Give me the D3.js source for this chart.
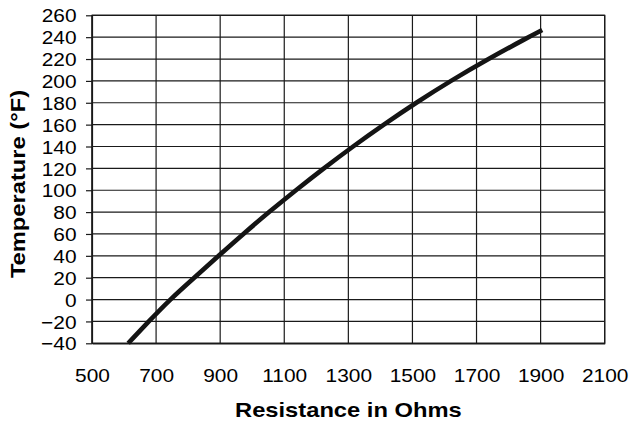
<!DOCTYPE html>
<html>
<head>
<meta charset="utf-8">
<script src="https://cdn.jsdelivr.net/npm/d3@7"></script>
<style>
  body { margin: 0; background: #fff; }
  text { font-family: "Liberation Sans", Arial, sans-serif; fill: #000; }
</style>
</head>
<body>
<svg id="chart"></svg>
<script>
// Chart size and plot margins
const width = 630;
const height = 425;
const margin = { top: 15.3, right: 25.3, bottom: 81.7, left: 92 };

// Data: temperature (°F) vs resistance (ohms)
const resistance = [613, 677, 743, 819, 895, 972, 1052, 1136, 1223, 1314, 1410, 1511, 1619, 1736, 1862, 1905];
const temperature = [-40, -20, 0, 20, 40, 60, 80, 100, 120, 140, 160, 180, 200, 220, 240, 246.5];

// Axis ticks
const xTicks = [500, 700, 900, 1100, 1300, 1500, 1700, 1900, 2100];
const yTicks = [-40, -20, 0, 20, 40, 60, 80, 100, 120, 140, 160, 180, 200, 220, 240, 260];

// Text in the reference is a bit wide, so stretch it horizontally
const stretch = 1.13;

const points = resistance.map((r, i) => ({ r: r, t: temperature[i] }));

const svg = d3.select("#chart")
  .attr("width", width)
  .attr("height", height);

const innerW = width - margin.left - margin.right;
const innerH = height - margin.top - margin.bottom;

const x = d3.scaleLinear().domain([500, 2100]).range([0, innerW]);
const y = d3.scaleLinear().domain([-40, 260]).range([innerH, 0]);

const g = svg.append("g")
  .attr("transform", "translate(" + margin.left + "," + margin.top + ")");

// Grid lines
g.append("g").selectAll("line")
  .data(yTicks)
  .enter()
  .append("line")
  .attr("x1", 0)
  .attr("x2", innerW)
  .attr("y1", (d) => y(d))
  .attr("y2", (d) => y(d))
  .attr("stroke", "#1a1a1a")
  .attr("stroke-width", 1.2);

g.append("g").selectAll("line")
  .data(xTicks)
  .enter()
  .append("line")
  .attr("x1", (d) => x(d))
  .attr("x2", (d) => x(d))
  .attr("y1", 0)
  .attr("y2", innerH)
  .attr("stroke", "#1a1a1a")
  .attr("stroke-width", 1.2);

// Y axis (with small outside ticks)
const yAxis = g.append("g")
  .call(d3.axisLeft(y).tickValues(yTicks).tickSize(6).tickSizeOuter(0).tickFormat(d3.format("d")));
yAxis.select(".domain").attr("stroke", "#1a1a1a").attr("stroke-width", 1.2);
yAxis.selectAll(".tick line").attr("stroke", "#1a1a1a").attr("stroke-width", 1.2);
yAxis.selectAll(".tick text")
  .attr("x", -15.5 / stretch)
  .attr("dy", "0.36em")
  .attr("transform", "scale(" + stretch + ",1)")
  .style("font-size", "18.5px")
  .style("font-family", "'Liberation Sans', Arial, sans-serif")
  .attr("fill", "#000");

// X axis (labels only, no tick marks)
const xAxis = g.append("g")
  .attr("transform", "translate(0," + innerH + ")")
  .call(d3.axisBottom(x).tickValues(xTicks).tickSize(0).tickSizeOuter(0).tickFormat(d3.format("d")));
xAxis.select(".domain").attr("stroke", "#1a1a1a").attr("stroke-width", 1.2);
xAxis.selectAll(".tick text")
  .attr("x", 0)
  .attr("y", 38.3)
  .attr("dy", 0)
  .attr("transform", "scale(" + stretch + ",1)")
  .style("font-size", "18.5px")
  .style("font-family", "'Liberation Sans', Arial, sans-serif")
  .attr("fill", "#000");

// Plot frame
g.append("rect")
  .attr("x", 0)
  .attr("y", 0)
  .attr("width", innerW)
  .attr("height", innerH)
  .attr("fill", "none")
  .attr("stroke", "#1a1a1a")
  .attr("stroke-width", 1.2);

// The curve
const line = d3.line()
  .x((d) => x(d.r))
  .y((d) => y(d.t))
  .curve(d3.curveBasis);

g.append("path")
  .datum(points)
  .attr("d", line)
  .attr("fill", "none")
  .attr("stroke", "#141414")
  .attr("stroke-width", 4.6)
  .attr("stroke-linecap", "butt");

// Axis titles
svg.append("text")
  .attr("transform", "translate(" + (margin.left + innerW / 2) + ",417.3) scale(" + stretch + ",1)")
  .attr("text-anchor", "middle")
  .style("font-size", "21px")
  .style("font-weight", "bold")
  .text("Resistance in Ohms");

svg.append("text")
  .attr("transform", "translate(25,184) rotate(-90) scale(" + stretch + ",1)")
  .attr("text-anchor", "middle")
  .style("font-size", "21px")
  .style("font-weight", "bold")
  .text("Temperature (°F)");
</script>
</body>
</html>
